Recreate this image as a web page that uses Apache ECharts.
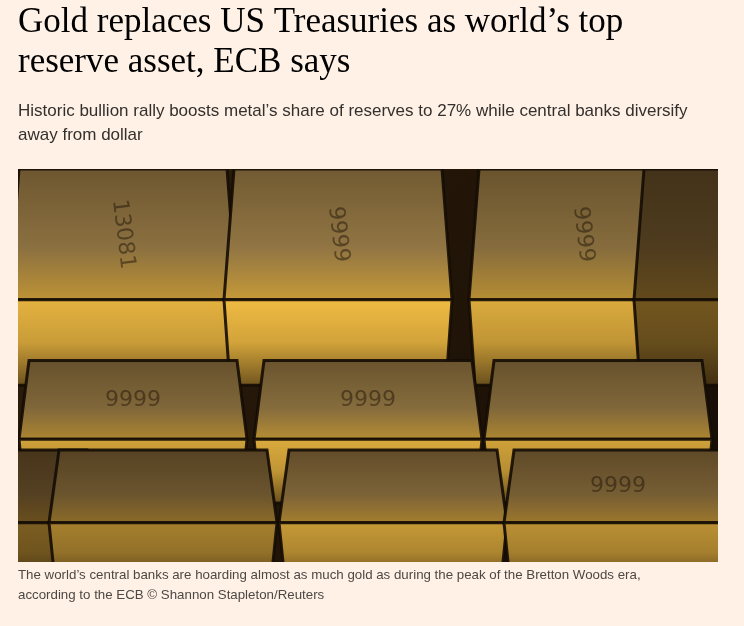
<!DOCTYPE html>
<html lang="en">
<head>
    <meta http-equiv="content-type" content="text/html; charset=utf-8" />
    <script type="text/javascript" src="https://cdn.jsdelivr.net/npm/echarts@6/dist/echarts.min.js"></script>
    <title>Gold replaces US Treasuries as world's top reserve asset</title>
    <style>
        html, body { margin: 0; padding: 0; background: #FFF1E5; }
        #main { width: 744px; height: 626px; }
    </style>
</head>
<body>
<div id="main"></div>
<script type="text/javascript">
    // texts
    var headline = ['Gold replaces US Treasuries as world\u2019s top', 'reserve asset, ECB says'];
    var standfirst = ['Historic bullion rally boosts metal\u2019s share of reserves to 27% while central banks diversify', 'away from dollar'];
    var caption = ['The world\u2019s central banks are hoarding almost as much gold as during the peak of the Bretton Woods era,', 'according to the ECB \u00a9 Shannon Stapleton/Reuters'];

    // stacked bars in the photo: centre (x units), row index, brightness 0-1, stamp
    var rowNames = ['back', 'middle', 'front'];
    var barCentres = [1.05, 3.2, 5.65, 7.3, 1.15, 3.5, 5.8, -0.35, 1.45, 3.75, 6.0];
    var barRows = [0, 0, 0, 0, 1, 1, 1, 2, 2, 2, 2];
    var barLight = [0.9, 0.95, 0.85, 0.35, 0.8, 0.85, 0.8, 0.4, 0.6, 0.75, 0.7];
    var barStamps = ['13081', '9999', '9999', '', '9999', '9999', '', '', '', '', '9999'];

    var chart = echarts.init(document.getElementById('main'));

    function mix(a, b, t) {
        var r = Math.round(a[0] + (b[0] - a[0]) * t);
        var g = Math.round(a[1] + (b[1] - a[1]) * t);
        var bl = Math.round(a[2] + (b[2] - a[2]) * t);
        return 'rgb(' + r + ',' + g + ',' + bl + ')';
    }
    var dark = [40, 26, 10];
    var gold = [250, 196, 70];
    var olive = [150, 122, 70];

    // row geometry in axis units (y axis 0 = photo top)
    var rowTopFace = [0, 1.95, 2.86];
    var rowFrontFace = [1.33, 2.75, 3.6];
    var rowBottom = [2.2, 3.4, 4.2];

    function renderBar(params, api) {
        var c = api.value(0), r = api.value(1), L = api.value(2);
        var half = 1.14;
        var taper = 0.1;
        var p1 = api.coord([c - half + taper, rowTopFace[r]]);
        var p2 = api.coord([c + half - taper, rowTopFace[r]]);
        var p3 = api.coord([c + half, rowFrontFace[r]]);
        var p4 = api.coord([c - half, rowFrontFace[r]]);
        var p5 = api.coord([c + half - 0.06, rowBottom[r]]);
        var p6 = api.coord([c - half + 0.06, rowBottom[r]]);
        var stamp = barStamps[params.dataIndex];
        var mid = api.coord([c, (rowTopFace[r] + rowFrontFace[r]) / 2]);
        return {
            type: 'group',
            children: [
                {
                    type: 'polygon',
                    shape: { points: [p1, p2, p3, p4] },
                    style: {
                        fill: new echarts.graphic.LinearGradient(0, 0, 0, 1, [
                            { offset: 0, color: mix(dark, olive, L * 0.7) },
                            { offset: 0.6, color: mix(dark, olive, L) },
                            { offset: 1, color: mix(dark, gold, L * 0.8) }
                        ]),
                        stroke: 'rgba(20,12,4,0.9)',
                        lineWidth: 3
                    }
                },
                {
                    type: 'polygon',
                    shape: { points: [p4, p3, p5, p6] },
                    style: {
                        fill: new echarts.graphic.LinearGradient(0, 0, 0, 1, [
                            { offset: 0, color: mix(dark, gold, L) },
                            { offset: 0.5, color: mix(dark, gold, L * 0.85) },
                            { offset: 1, color: mix(dark, gold, L * 0.35) }
                        ]),
                        stroke: 'rgba(20,12,4,0.9)',
                        lineWidth: 3
                    }
                },
                {
                    type: 'text',
                    x: mid[0],
                    y: mid[1],
                    rotation: r === 0 ? -1.45 : 0,
                    style: {
                        text: stamp,
                        fill: 'rgba(30,20,8,0.5)',
                        font: '22px "DejaVu Sans"',
                        align: 'center',
                        verticalAlign: 'middle'
                    }
                }
            ]
        };
    }

    var barData = barCentres.map(function (c, i) {
        return [c, barRows[i], barLight[i]];
    });

    var textStyleHead = { fill: '#000', font: '35px "Liberation Serif"' };
    var textStyleStand = { fill: '#33302E', font: '17px "Liberation Sans"' };
    var textStyleCap = { fill: '#4D4845', font: '13.3px "Liberation Sans"' };

    chart.setOption({
        backgroundColor: '#FFF1E5',
        animation: false,
        grid: { left: 18, top: 169, width: 700, height: 393 },
        xAxis: { type: 'value', min: 0, max: 7, show: false },
        yAxis: { type: 'value', min: 0, max: 4, inverse: true, show: false },
        graphic: [
            { type: 'rect', left: 18, top: 169, shape: { width: 700, height: 393 }, z: -1,
              style: { fill: new echarts.graphic.LinearGradient(0, 0, 1, 1, [
                  { offset: 0, color: '#2e1d0b' }, { offset: 1, color: '#160d05' }]) } },
            { type: 'text', left: 18, top: 5, style: Object.assign({ text: headline[0] }, textStyleHead) },
            { type: 'text', left: 18, top: 45, style: Object.assign({ text: headline[1] }, textStyleHead) },
            { type: 'text', left: 18, top: 103, style: Object.assign({ text: standfirst[0] }, textStyleStand) },
            { type: 'text', left: 18, top: 127, style: Object.assign({ text: standfirst[1] }, textStyleStand) },
            { type: 'text', left: 18, top: 569, style: Object.assign({ text: caption[0] }, textStyleCap) },
            { type: 'text', left: 18, top: 589, style: Object.assign({ text: caption[1] }, textStyleCap) }
        ],
        series: [{
            type: 'custom',
            name: 'gold bars',
            clip: true,
            renderItem: renderBar,
            data: barData
        }]
    });
</script>
</body>
</html>
